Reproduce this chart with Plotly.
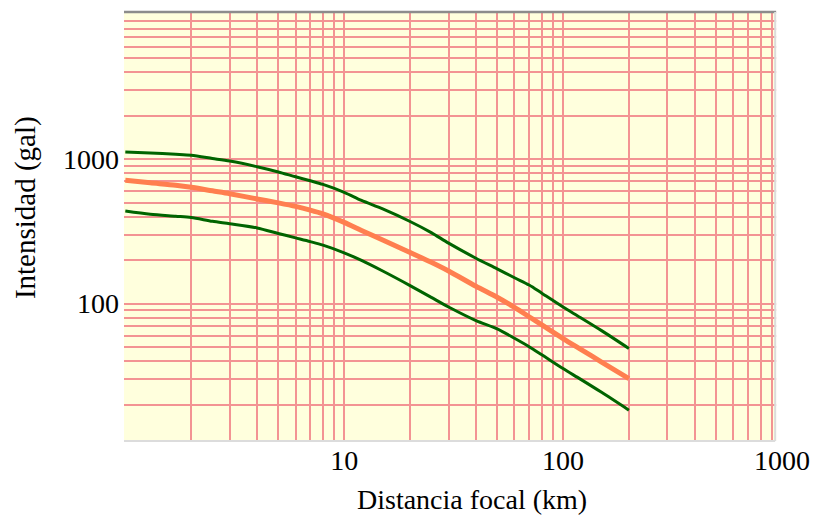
import plotly.graph_objects as go

# Focal distance (km) and intensity (gal): mean curve and upper / lower bounds
distancia = [1, 1.3, 1.7, 2, 2.5, 3, 4, 5, 6, 7, 8, 10, 12, 15, 20, 25, 30,
             40, 50, 60, 70, 80, 100, 120, 150, 200]
intensidad_sup = [1120, 1102, 1079, 1062, 1010, 969, 886, 815, 754, 708, 668,
                  589, 517, 452, 370, 310, 262, 206, 174, 151, 134.5, 118,
                  94.7, 80.1, 65.0, 48.9]
intensidad_media = [713, 685, 659, 638, 603, 576, 530, 498, 471, 444, 418,
                    365, 321, 275.5, 226, 193, 168, 131.7, 110.6, 94.1, 81.1,
                    71.2, 57.3, 48.4, 39.4, 30.3]
intensidad_inf = [437, 415, 402, 394, 371, 357, 334, 305.6, 285, 268.6, 254,
                  224.7, 199, 168, 133.2, 110.4, 94.7, 76.3, 66.9, 57.5, 50.3,
                  44.2, 35.5, 30.0, 24.3, 18.3]

# Log grid positions and the labels shown on them
x_grid = [d * 10 ** e for e in range(0, 3) for d in range(1, 10)][1:] + [1000]
x_labels = {10: "10", 100: "100", 1000: "1000"}
y_grid = [d * 10 ** e for e in range(1, 4) for d in range(1, 10)][1:]
y_labels = {100: "100", 1000: "1000"}

W, H = 822, 516
L, R, T, B = 124, 787.4, 11.7, 440.7   # plot area in pixels
EDGE = 780.5                            # visible right edge of the plot area

def px_x(p):
    return (p - L) / (R - L)

def px_y(p):
    return (B - p) / (B - T)

fig = go.Figure()
fig.add_trace(go.Scatter(x=distancia, y=intensidad_sup, mode="lines",
                         line=dict(color="#006400", width=3, shape="spline",
                                   smoothing=0.8), showlegend=False))
fig.add_trace(go.Scatter(x=distancia, y=intensidad_inf, mode="lines",
                         line=dict(color="#006400", width=3, shape="spline",
                                   smoothing=0.8), showlegend=False))
fig.add_trace(go.Scatter(x=distancia, y=intensidad_media, mode="lines",
                         line=dict(color="#FF7F4F", width=5, shape="spline",
                                   smoothing=0.8), showlegend=False))

serif = "Liberation Serif"
grid_color = "#F39393"

fig.update_xaxes(
    type="log", range=[-0.006, 3.0005],
    tickmode="array", tickvals=x_grid,
    ticktext=[x_labels.get(v, "") for v in x_grid],
    showgrid=True, gridcolor=grid_color, gridwidth=1.8,
    zeroline=False, showline=False, ticks="",
    tickfont=dict(family=serif, size=28, color="black"),
)
fig.update_yaxes(
    type="log", range=[1.049, 4.018],
    tickmode="array", tickvals=y_grid,
    ticktext=[y_labels.get(v, "") for v in y_grid],
    showgrid=True, gridcolor=grid_color, gridwidth=1.8,
    zeroline=False, showline=False, ticks="", ticklabelstandoff=4,
    tickfont=dict(family=serif, size=28, color="black"),
)

shapes = [
    # blank strip beyond the right edge of the plot area
    dict(type="rect", xref="paper", yref="paper", layer="above",
         x0=px_x(EDGE + 1), x1=px_x(W), y0=px_y(B + 2), y1=px_y(0),
         fillcolor="white", line=dict(width=0)),
    # frame: dark top edge, light right and bottom edges
    dict(type="line", xref="paper", yref="paper", layer="above",
         x0=0, x1=px_x(EDGE + 1), y0=px_y(T), y1=px_y(T),
         line=dict(color="#8C8C8C", width=2.5)),
    dict(type="line", xref="paper", yref="paper", layer="above",
         x0=px_x(EDGE), x1=px_x(EDGE), y0=px_y(B), y1=px_y(T),
         line=dict(color="#DCDCDC", width=2)),
    dict(type="line", xref="paper", yref="paper", layer="above",
         x0=0, x1=px_x(EDGE), y0=px_y(B), y1=px_y(B),
         line=dict(color="#DCDCDC", width=2)),
]

annotations = [
    dict(text="Distancia focal (km)", xref="paper", yref="paper",
         x=px_x(475), y=px_y(482), xanchor="center", yanchor="top",
         showarrow=False, font=dict(family=serif, size=28, color="black")),
    dict(text="Intensidad (gal)", xref="paper", yref="paper",
         x=px_x(24), y=px_y(207), xanchor="center", yanchor="middle",
         textangle=-90, showarrow=False,
         font=dict(family=serif, size=29, color="black")),
]

fig.update_layout(
    width=W, height=H,
    margin=dict(l=L, r=W - R, t=T, b=H - B, pad=0),
    paper_bgcolor="white", plot_bgcolor="#FFFFDD",
    shapes=shapes, annotations=annotations,
)

fig.write_html("out.html")
